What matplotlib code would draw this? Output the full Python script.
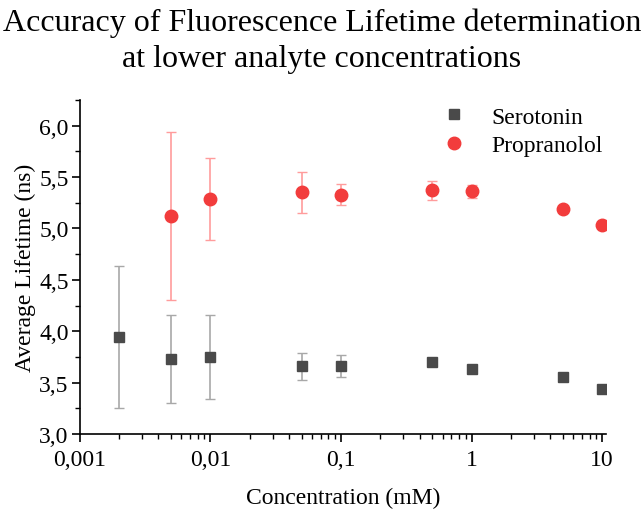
import numpy as np
import matplotlib
matplotlib.use("Agg")
import matplotlib.pyplot as plt
from matplotlib.ticker import FuncFormatter, MultipleLocator, LogLocator, NullFormatter

plt.rcParams["font.family"] = ["Liberation Serif", "DejaVu Serif"]

# data
sero_conc = [0.002, 0.005, 0.01, 0.05, 0.1, 0.5, 1, 5, 10]
sero_life = [3.94, 3.73, 3.75, 3.66, 3.66, 3.70, 3.63, 3.55, 3.44]
sero_err = [0.69, 0.43, 0.41, 0.13, 0.11, 0.02, 0.0, 0.0, 0.0]

prop_conc = [0.005, 0.01, 0.05, 0.1, 0.5, 1, 5, 10]
prop_life = [5.12, 5.29, 5.35, 5.33, 5.37, 5.36, 5.19, 5.03]
prop_err = [0.82, 0.40, 0.20, 0.10, 0.09, 0.06, 0.0, 0.0]

xticks = [0.001, 0.01, 0.1, 1, 10]
xticklabels = ["0,001", "0,01", "0,1", "1", "10"]

fig = plt.figure(figsize=(6.44, 5.10), dpi=100)
ax = fig.add_axes([0.124, 0.147, 0.817, 0.655])

ax.errorbar(sero_conc, sero_life, yerr=sero_err, fmt="s", color="#4a4a4a",
            ms=7.5, ecolor="#a8a8a8", elinewidth=1.2, capsize=3.5, capthick=1.0,
            label="Serotonin", zorder=3)
ax.errorbar(prop_conc, prop_life, yerr=prop_err, fmt="o", color="#f23c3c",
            ms=9, ecolor="#ff9c9c", elinewidth=1.2, capsize=3.5, capthick=1.0,
            label="Propranolol", zorder=3)

ax.set_xscale("log")
ax.set_xlim(0.001, 10.7)
ax.set_ylim(3.0, 6.25)
ax.set_xticks(xticks)
ax.set_xticklabels(xticklabels)
ax.xaxis.set_minor_locator(LogLocator(base=10, subs=np.arange(2, 10)))
ax.xaxis.set_minor_formatter(NullFormatter())
ax.yaxis.set_major_locator(MultipleLocator(0.5))
ax.yaxis.set_minor_locator(MultipleLocator(0.25))
ax.yaxis.set_major_formatter(FuncFormatter(lambda v, p: f"{v:.1f}".replace(".", ",")))

for s in ["top", "right"]:
    ax.spines[s].set_visible(False)
for s in ["left", "bottom"]:
    ax.spines[s].set_linewidth(1.2)
ax.tick_params(which="major", length=6, width=1.2, labelsize=17, colors="black")
ax.tick_params(axis="y", which="major", pad=2)
ax.tick_params(axis="x", which="major", pad=5)
ax.tick_params(which="minor", length=3.5, width=1.0)

ax.set_xlabel("Concentration (mM)", fontsize=17, labelpad=12)
ax.set_ylabel("Average Lifetime (ns)", fontsize=17, labelpad=2)

leg_handles = [
    plt.Line2D([], [], ls="none", marker="s", color="#4a4a4a", ms=7.5),
    plt.Line2D([], [], ls="none", marker="o", color="#f23c3c", ms=9),
]
ax.legend(leg_handles, ["Serotonin", "Propranolol"], loc="upper right",
          bbox_to_anchor=(1.035, 1.045), frameon=False, fontsize=17,
          handletextpad=0.6, labelspacing=0.3)

fig.suptitle("Accuracy of Fluorescence Lifetime determination\nat lower analyte concentrations",
             fontsize=23, y=0.984, linespacing=1.33)

fig.savefig("out.png", dpi=100)
